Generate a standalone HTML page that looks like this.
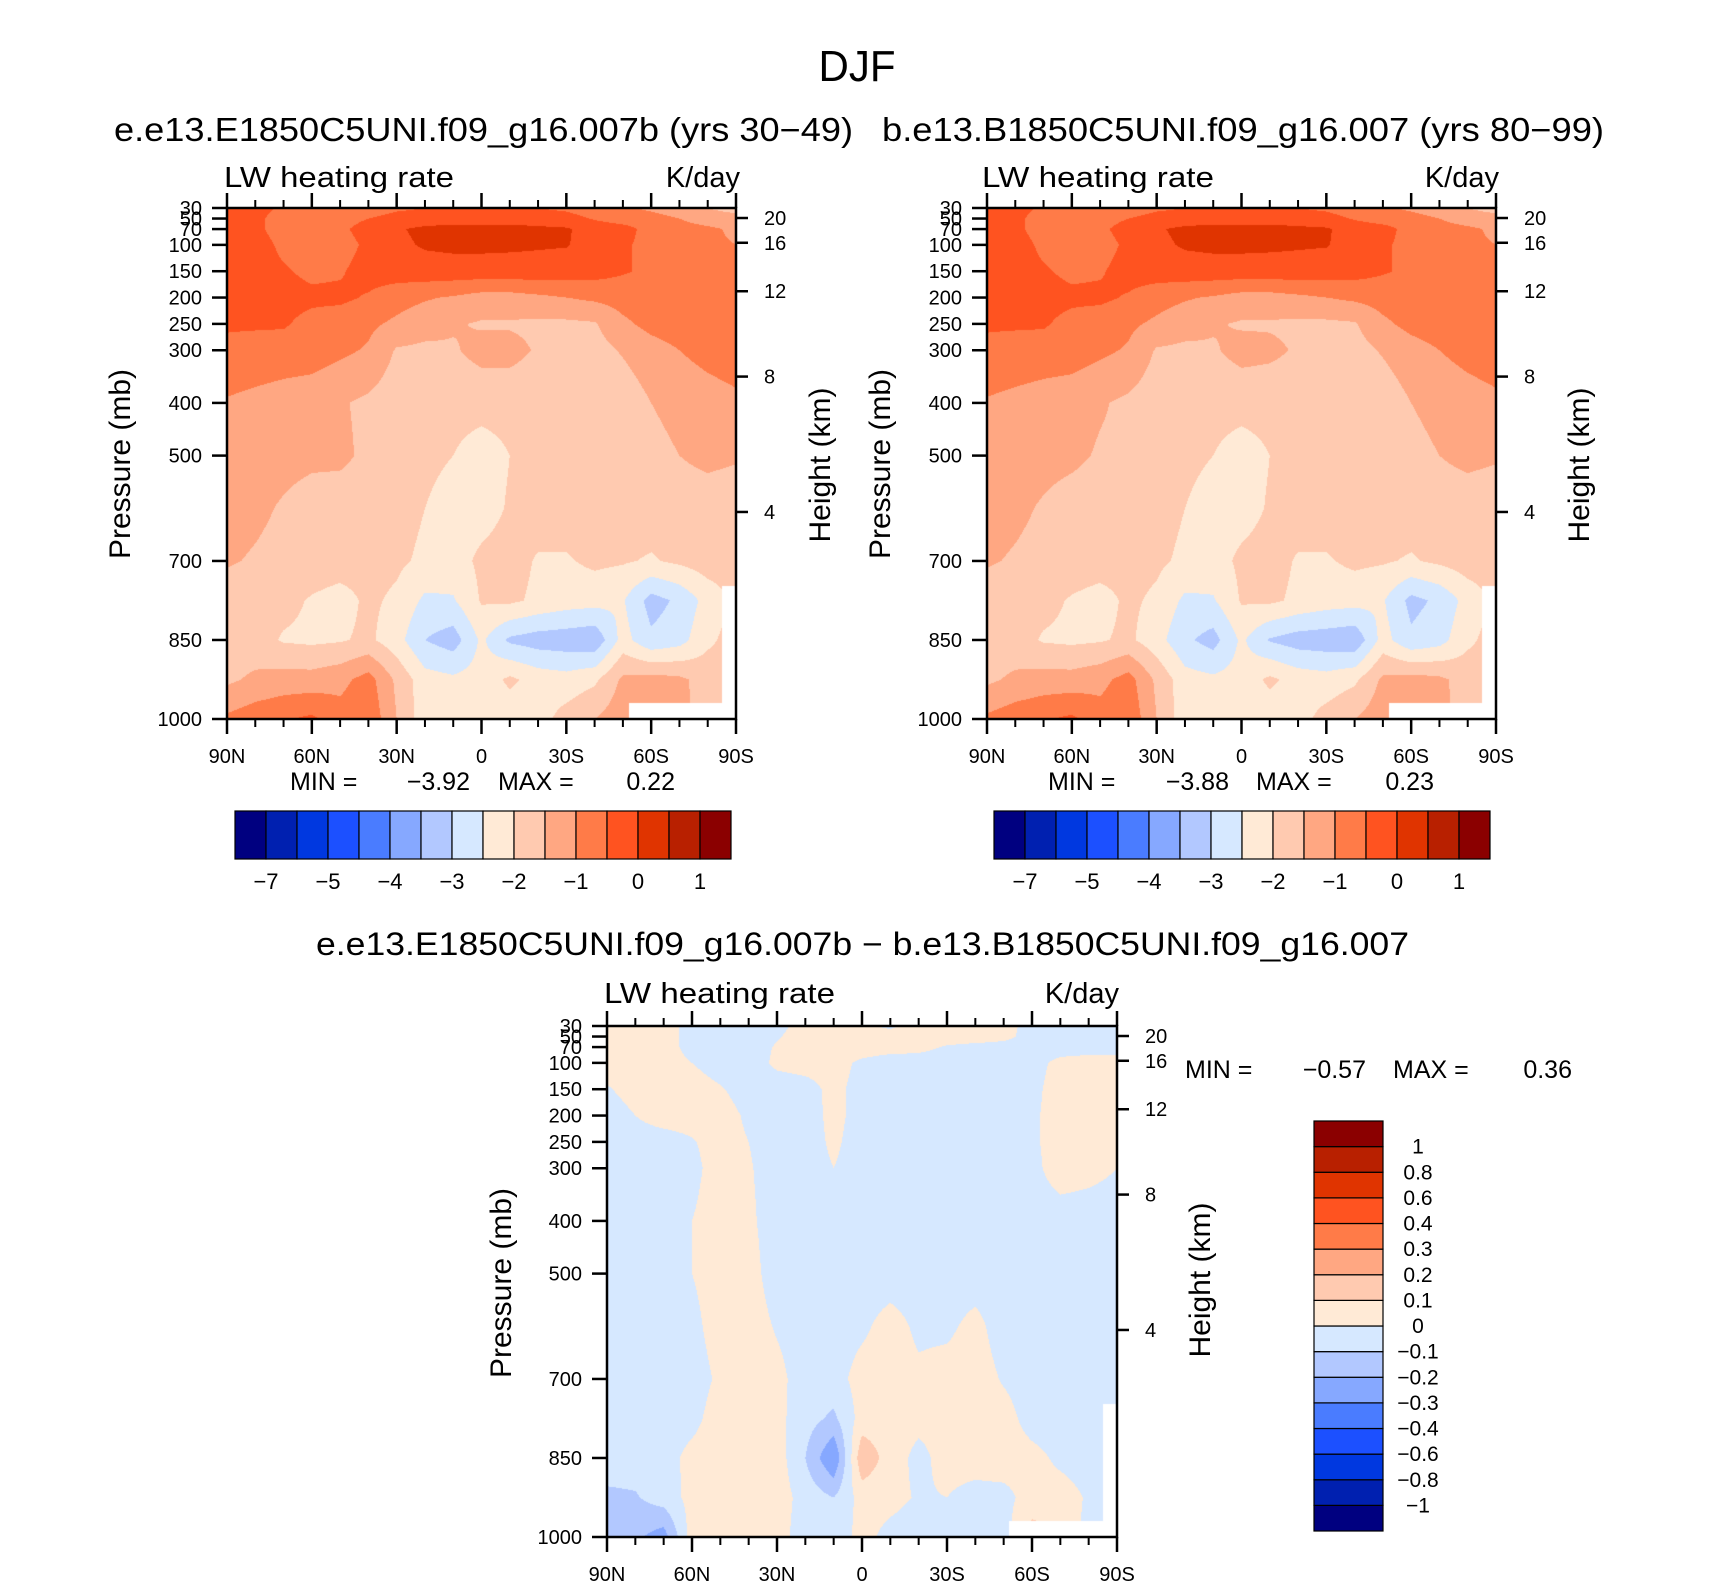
<!DOCTYPE html>
<html><head><meta charset="utf-8"><style>
html,body{margin:0;padding:0;background:#fff;}
#wrap{position:relative;width:1710px;height:1581px;overflow:hidden;background:#fff;}
canvas{position:absolute;}
svg{position:absolute;left:0;top:0;}
text{font-family:"Liberation Sans",sans-serif;fill:#000;}
</style></head><body>
<div id="wrap">
<canvas id="c1"></canvas>
<canvas id="c2"></canvas>
<canvas id="c3"></canvas>
<svg id="svg" width="1710" height="1581">
<text x="857" y="81" font-size="44" text-anchor="middle" textLength="77" lengthAdjust="spacingAndGlyphs">DJF</text>
<text x="114" y="141" font-size="33" textLength="739" lengthAdjust="spacingAndGlyphs">e.e13.E1850C5UNI.f09_g16.007b (yrs 30−49)</text>
<text x="882" y="141" font-size="33" textLength="722" lengthAdjust="spacingAndGlyphs">b.e13.B1850C5UNI.f09_g16.007 (yrs 80−99)</text>
<text x="316" y="955" font-size="32" textLength="1093" lengthAdjust="spacingAndGlyphs">e.e13.E1850C5UNI.f09_g16.007b − b.e13.B1850C5UNI.f09_g16.007</text>
<text x="224" y="187" font-size="29" textLength="230" lengthAdjust="spacingAndGlyphs">LW heating rate</text>
<text x="740" y="187" font-size="29" text-anchor="end">K/day</text>
<text x="982" y="187" font-size="29" textLength="232" lengthAdjust="spacingAndGlyphs">LW heating rate</text>
<text x="1499" y="187" font-size="29" text-anchor="end">K/day</text>
<text x="604" y="1003" font-size="29" textLength="231" lengthAdjust="spacingAndGlyphs">LW heating rate</text>
<text x="1119" y="1003" font-size="29" text-anchor="end">K/day</text>
<text transform="translate(130,464) rotate(-90)" font-size="30" text-anchor="middle">Pressure (mb)</text>
<text transform="translate(830,465) rotate(-90)" font-size="30" text-anchor="middle">Height (km)</text>
<text transform="translate(890,464) rotate(-90)" font-size="30" text-anchor="middle">Pressure (mb)</text>
<text transform="translate(1589,465) rotate(-90)" font-size="30" text-anchor="middle">Height (km)</text>
<text transform="translate(511,1283) rotate(-90)" font-size="30" text-anchor="middle">Pressure (mb)</text>
<text transform="translate(1210,1280) rotate(-90)" font-size="30" text-anchor="middle">Height (km)</text>
<g font-size="25">
<text x="290" y="790">MIN =</text><text x="470" y="790" text-anchor="end">−3.92</text>
<text x="498" y="790">MAX =</text><text x="675" y="790" text-anchor="end">0.22</text></g>
<g font-size="25">
<text x="1048" y="790">MIN =</text><text x="1229" y="790" text-anchor="end">−3.88</text>
<text x="1256" y="790">MAX =</text><text x="1434" y="790" text-anchor="end">0.23</text></g>
<g font-size="25">
<text x="1185" y="1078">MIN =</text><text x="1366" y="1078" text-anchor="end">−0.57</text>
<text x="1393" y="1078">MAX =</text><text x="1572" y="1078" text-anchor="end">0.36</text></g>
<g id="dyn"></g>
</svg>
</div>
<script>
const lats=[90,80,70,60,50,40,30,20,10,0,-10,-20,-30,-40,-50,-60,-70,-80,-90];
const plevs=[30,50,70,100,150,200,250,300,400,500,600,700,775,850,925,1000];
const field1=[
[-0.3,-0.3,-0.6,-0.8,-0.8,-0.8,-0.6,-0.5,-0.5,-0.5,-0.5,-0.5,-0.6,-0.8,-0.9,-1.1,-1.3,-1.5,-1.7],
[-0.25,-0.4,-0.7,-0.75,-0.7,-0.5,-0.3,-0.25,-0.2,-0.2,-0.2,-0.25,-0.3,-0.55,-0.75,-0.8,-1.0,-1.25,-1.3],
[-0.25,-0.4,-0.7,-0.75,-0.6,-0.3,-0.05,0.1,0.15,0.15,0.15,0.1,0.05,-0.2,-0.3,-0.7,-0.8,-0.9,-1.1],
[-0.25,-0.3,-0.6,-0.75,-0.7,-0.4,-0.1,0.05,0.1,0.1,0.08,0.05,0.03,-0.2,-0.4,-0.7,-0.8,-0.9,-1.0],
[-0.25,-0.3,-0.45,-0.6,-0.55,-0.3,-0.25,-0.2,-0.2,-0.2,-0.2,-0.2,-0.25,-0.3,-0.45,-0.6,-0.75,-0.8,-0.85],
[-0.3,-0.3,-0.35,-0.4,-0.4,-0.55,-0.8,-0.95,-1.05,-1.2,-1.2,-1.1,-1.0,-0.9,-0.8,-0.75,-0.7,-0.7,-0.7],
[-0.45,-0.45,-0.45,-0.65,-0.75,-0.9,-1.1,-1.3,-1.45,-1.55,-1.55,-1.6,-1.6,-1.55,-1.1,-0.85,-0.75,-0.7,-0.7],
[-0.6,-0.65,-0.7,-0.75,-0.9,-1.05,-1.55,-1.6,-1.55,-1.35,-1.35,-1.55,-1.7,-1.7,-1.45,-1.2,-1.0,-0.85,-0.75],
[-1.05,-1.15,-1.25,-1.3,-1.45,-1.6,-1.8,-1.8,-1.8,-1.8,-1.8,-1.8,-1.8,-1.8,-1.8,-1.5,-1.3,-1.2,-1.1],
[-1.25,-1.3,-1.35,-1.4,-1.4,-1.6,-1.75,-1.85,-2.0,-2.25,-2.0,-1.8,-1.75,-1.75,-1.75,-1.7,-1.5,-1.4,-1.45],
[-1.3,-1.4,-1.55,-1.7,-1.75,-1.75,-1.8,-2.0,-2.25,-2.2,-1.95,-1.75,-1.75,-1.75,-1.75,-1.75,-1.7,-1.7,-1.75],
[-1.45,-1.55,-1.65,-1.7,-1.75,-1.8,-1.9,-2.1,-2.2,-1.9,-1.8,-2.05,-2.05,-1.9,-1.95,-2.05,-1.9,-1.75,-1.75],
[-1.75,-1.75,-1.85,-2.05,-2.2,-1.9,-2.1,-2.6,-2.55,-1.95,-1.9,-2.1,-2.25,-2.3,-2.45,-3.2,-2.9,-2.3,-1.9],
[-1.8,-1.8,-2.05,-2.1,-2.05,-1.9,-2.3,-3.0,-3.25,-2.4,-3.1,-3.25,-3.3,-3.4,-2.3,-2.9,-2.7,-2.1,-1.8],
[-1.6,-1.4,-1.3,-1.3,-1.15,-0.8,-1.6,-2.3,-2.4,-2.3,-1.9,-2.2,-2.3,-2.1,-1.4,-1.3,-1.4,-1.7,-1.8],
[-0.9,-0.7,-0.55,-0.4,-0.8,-0.6,-1.5,-2.3,-2.4,-2.3,-2.3,-2.2,-1.8,-1.5,-1.2,-0.9,-1.3,-1.8,-1.8]];
const field2=[
[-0.3,-0.3,-0.6,-0.8,-0.8,-0.8,-0.6,-0.5,-0.5,-0.5,-0.5,-0.5,-0.6,-0.8,-0.9,-1.1,-1.3,-1.5,-1.7],
[-0.25,-0.4,-0.7,-0.75,-0.7,-0.5,-0.3,-0.25,-0.2,-0.2,-0.2,-0.25,-0.3,-0.55,-0.75,-0.8,-1.0,-1.25,-1.3],
[-0.25,-0.4,-0.7,-0.75,-0.6,-0.3,-0.05,0.1,0.15,0.15,0.15,0.1,0.05,-0.2,-0.3,-0.7,-0.8,-0.9,-1.1],
[-0.25,-0.3,-0.6,-0.75,-0.7,-0.4,-0.1,0.05,0.1,0.1,0.08,0.05,0.03,-0.2,-0.4,-0.7,-0.8,-0.9,-1.0],
[-0.25,-0.3,-0.45,-0.6,-0.55,-0.3,-0.25,-0.2,-0.2,-0.2,-0.2,-0.2,-0.25,-0.3,-0.45,-0.6,-0.75,-0.8,-0.85],
[-0.3,-0.3,-0.35,-0.4,-0.4,-0.55,-0.8,-0.95,-1.05,-1.2,-1.2,-1.1,-1.0,-0.9,-0.8,-0.75,-0.7,-0.7,-0.7],
[-0.45,-0.45,-0.45,-0.65,-0.75,-0.9,-1.1,-1.3,-1.45,-1.55,-1.55,-1.6,-1.6,-1.55,-1.1,-0.85,-0.75,-0.7,-0.7],
[-0.6,-0.65,-0.7,-0.75,-0.9,-1.05,-1.55,-1.6,-1.55,-1.35,-1.4,-1.55,-1.7,-1.7,-1.45,-1.2,-1.0,-0.85,-0.75],
[-1.05,-1.15,-1.25,-1.3,-1.45,-1.6,-1.8,-1.8,-1.8,-1.8,-1.8,-1.8,-1.8,-1.8,-1.8,-1.5,-1.3,-1.2,-1.1],
[-1.25,-1.3,-1.35,-1.4,-1.55,-1.6,-1.75,-1.85,-2.0,-2.25,-2.0,-1.8,-1.75,-1.75,-1.75,-1.7,-1.5,-1.4,-1.45],
[-1.3,-1.4,-1.55,-1.7,-1.75,-1.75,-1.8,-2.0,-2.25,-2.2,-1.95,-1.75,-1.75,-1.75,-1.75,-1.75,-1.7,-1.7,-1.75],
[-1.45,-1.55,-1.65,-1.7,-1.75,-1.8,-1.9,-2.1,-2.2,-1.9,-1.8,-2.05,-2.05,-1.9,-1.95,-2.05,-1.9,-1.75,-1.75],
[-1.75,-1.75,-1.85,-2.05,-2.2,-1.9,-2.1,-2.6,-2.55,-1.95,-1.9,-2.1,-2.25,-2.3,-2.45,-3.15,-2.9,-2.3,-1.9],
[-1.8,-1.8,-2.05,-2.1,-2.05,-1.9,-2.3,-2.9,-3.2,-2.4,-3.05,-3.25,-3.3,-3.4,-2.3,-2.9,-2.7,-2.1,-1.8],
[-1.6,-1.4,-1.3,-1.3,-1.15,-0.8,-1.6,-2.3,-2.4,-2.3,-1.9,-2.2,-2.3,-2.1,-1.4,-1.3,-1.4,-1.7,-1.8],
[-0.9,-0.7,-0.55,-0.4,-0.8,-0.6,-1.5,-2.3,-2.4,-2.3,-2.3,-2.2,-1.8,-1.5,-1.2,-0.9,-1.3,-1.8,-1.8]];
const field3=[
[.05,.05,.05,-.04,-.05,-.05,-.03,.04,.05,.02,-.02,.05,.05,.05,.04,-.04,-.05,-.05,-.05],
[.05,.05,.05,-.04,-.05,-.05,-.01,.05,.05,.05,.05,.05,.05,.05,.03,-.04,-.05,-.05,-.05],
[.05,.05,.05,-.04,-.05,-.05,.01,.05,.05,.05,.04,.03,-.01,-.03,-.04,-.05,-.05,-.05,-.05],
[.05,.05,.05,.0,-.05,-.05,.02,.04,.04,-.02,-.05,-.05,-.05,-.05,-.05,-.04,.03,.05,.05],
[-.01,.04,.05,.05,.01,-.05,-.05,-.04,.03,-.04,-.05,-.05,-.05,-.05,-.05,-.03,.05,.05,.05],
[-.05,.0,.05,.05,.05,-.02,-.05,-.05,.03,-.04,-.05,-.05,-.05,-.05,-.05,-.02,.05,.05,.05],
[-.05,-.05,-.05,-.01,.05,.0,-.05,-.05,.02,-.05,-.05,-.05,-.05,-.05,-.05,-.02,.05,.05,.04],
[-.05,-.05,-.05,-.03,.05,.01,-.05,-.05,.0,-.05,-.05,-.05,-.05,-.05,-.05,-.03,.05,.03,.0],
[-.05,-.05,-.05,.0,.05,.02,-.05,-.05,-.05,-.05,-.05,-.05,-.05,-.05,-.05,-.05,-.05,-.05,-.05],
[-.05,-.05,-.05,.0,.05,.04,-.05,-.05,-.05,-.05,-.05,-.05,-.05,-.05,-.05,-.05,-.05,-.05,-.05],
[-.05,-.05,-.05,-.03,.05,.05,-.01,-.05,-.05,-.02,.04,-.02,-.02,.03,-.05,-.05,-.05,-.05,-.05],
[-.05,-.05,-.05,-.05,.02,.05,.03,-.05,-.04,.04,.05,.02,.04,.05,-.01,-.05,-.05,-.05,-.05],
[-.05,-.05,-.05,-.03,.05,.05,.03,-.06,-.12,.04,.05,.03,.03,.05,.04,-.04,-.05,-.05,-.05],
[-.05,-.05,-.04,.03,.05,.05,.05,-.1,-.3,.18,.05,-.03,.04,.05,.05,.03,-.02,-.04,-.05],
[-.12,-.11,-.05,.03,.04,.05,.05,-.04,-.1,.04,.03,-.01,.0,-.04,-.03,.04,.04,-.01,-.04],
[-.18,-.18,-.25,.05,.05,.05,.04,-.05,-.05,.03,-.03,-.05,-.04,-.05,-.05,.15,.1,-.04,-.05]];
const colors=['#000080','#0020b0','#0038e0','#1c50ff','#4a7cff','#86a8ff','#b2c8ff','#d6e8ff','#ffead6','#ffcab0','#ffa782','#ff7b48','#ff5320','#e03400','#b82000','#8b0000'];
const levels1=[-7,-6,-5,-4.5,-4,-3.5,-3,-2.5,-2,-1.5,-1,-0.5,0,0.5,1];
const levels1Labels=['−7','','−5','','−4','','−3','','−2','','−1','','0','','1'];
const levels3=[-1,-0.8,-0.6,-0.4,-0.3,-0.2,-0.1,0,0.1,0.2,0.3,0.4,0.6,0.8,1];
const levels3Labels=['−1','−0.8','−0.6','−0.4','−0.3','−0.2','−0.1','0','0.1','0.2','0.3','0.4','0.6','0.8','1'];
const pTickVals=[30,50,70,100,150,200,250,300,400,500,700,850,1000];
const hTickLabels=['20','16','12','8','4'];
const hTickP=[49,96,188,350,607];
const latTickVals=[90,60,30,0,-30,-60,-90];
const latTickLabels=['90N','60N','30N','0','30S','60S','90S'];
const latMinorVals=[80,70,50,40,20,10,-10,-20,-40,-50,-70,-80];
const maskLatFrom=[-52,-85];
const maskLatTo=[-85,-90];
const maskPTop=[970,748];

const P1={x:227,y:208,w:509,h:511};
const P2={x:987,y:208,w:509,h:511};
const P3={x:607,y:1026,w:510,h:511};
function xS(P,lat){return P.x+(90-lat)/180*P.w;}
function yS(P,p){return P.y+(p-30)/970*P.h;}
const NS='http://www.w3.org/2000/svg';
const dyn=document.getElementById('dyn');
function mk(tag,attrs){const e=document.createElementNS(NS,tag);for(const k in attrs)e.setAttribute(k,attrs[k]);dyn.appendChild(e);return e;}
function levelIndex(v,levels){let k=0;for(let i=0;i<levels.length;i++){if(v>=levels[i])k=i+1;}return k;}
function sample(field,lat,p){
  let fx=(90-lat)/10;fx=Math.max(0,Math.min(17.9999,fx));
  const i=Math.floor(fx),tx=fx-i;
  let r=0;while(r<plevs.length-2&&p>plevs[r+1])r++;
  let ty=(p-plevs[r])/(plevs[r+1]-plevs[r]);ty=Math.max(0,Math.min(1,ty));
  const a=field[r][i],b=field[r][i+1],c=field[r+1][i],d=field[r+1][i+1];
  return (a*(1-tx)+b*tx)*(1-ty)+(c*(1-tx)+d*tx)*ty;
}
function hex(c){return [parseInt(c.substr(1,2),16),parseInt(c.substr(3,2),16),parseInt(c.substr(5,2),16)];}
const rgb=colors.map(hex);
function drawField(id,P,field,levels){
  const cv=document.getElementById(id);
  cv.width=P.w;cv.height=P.h;cv.style.left=P.x+'px';cv.style.top=P.y+'px';
  const ctx=cv.getContext('2d');const img=ctx.createImageData(P.w,P.h);
  for(let y=0;y<P.h;y++){
    const p=30+(y+0.5)/P.h*970;
    for(let x=0;x<P.w;x++){
      const lat=90-(x+0.5)/P.w*180;
      let col=rgb[levelIndex(sample(field,lat,p),levels)];
      for(let m=0;m<maskLatFrom.length;m++){if(lat<=maskLatFrom[m]&&lat>=maskLatTo[m]&&p>=maskPTop[m])col=[255,255,255];}
      const o=(y*P.w+x)*4;img.data[o]=col[0];img.data[o+1]=col[1];img.data[o+2]=col[2];img.data[o+3]=255;
    }
  }
  ctx.putImageData(img,0,0);
}
drawField('c1',P1,field1,levels1);
drawField('c2',P2,field2,levels1);
drawField('c3',P3,field3,levels3);

function axes(P,name){
  const fr=mk('rect',{x:P.x,y:P.y,width:P.w,height:P.h,fill:'none',stroke:'#000','stroke-width':2.5});
  
  
  pTickVals.forEach(function(p){
    const y=yS(P,p);
    const t=mk('line',{x1:P.x-15,x2:P.x,y1:y,y2:y,stroke:'#000','stroke-width':2.5});
    
    
    const l=mk('text',{x:P.x-25,y:y+7,'font-size':20,'text-anchor':'end'});
    l.textContent=String(p);
    
    
  });
  hTickP.forEach(function(p,i){
    const y=yS(P,p);
    const t=mk('line',{x1:P.x+P.w,x2:P.x+P.w+12,y1:y,y2:y,stroke:'#000','stroke-width':2.5});
    
    
    const l=mk('text',{x:P.x+P.w+28,y:y+7,'font-size':20});
    l.textContent=hTickLabels[i];
    
    
  });
  latTickVals.forEach(function(lat,i){
    const x=xS(P,lat);
    const t1=mk('line',{x1:x,x2:x,y1:P.y-15,y2:P.y,stroke:'#000','stroke-width':2.5});
    
    
    const t2=mk('line',{x1:x,x2:x,y1:P.y+P.h,y2:P.y+P.h+15,stroke:'#000','stroke-width':2.5});
    
    
    const l=mk('text',{x:x,y:P.y+P.h+44,'font-size':20,'text-anchor':'middle'});
    l.textContent=latTickLabels[i];
    
    
  });
  latMinorVals.forEach(function(lat){
    const x=xS(P,lat);
    const t1=mk('line',{x1:x,x2:x,y1:P.y-8,y2:P.y,stroke:'#000','stroke-width':2});
    
    
    const t2=mk('line',{x1:x,x2:x,y1:P.y+P.h,y2:P.y+P.h+8,stroke:'#000','stroke-width':2});
    
    
  });
}
axes(P1,'left');axes(P2,'right');axes(P3,'difference');

function hbar(x0,y0,w,h,name){
  const bw=w/colors.length;
  colors.forEach(function(c,k){
    const r=mk('rect',{x:x0+k*bw,y:y0,width:bw,height:h,fill:c,stroke:'#000','stroke-width':1.2});
    
    
  });
  levels1Labels.forEach(function(s,i){
    if(!s)return;
    const t=mk('text',{x:x0+(i+1)*bw,y:y0+h+30,'font-size':22,'text-anchor':'middle'});
    t.textContent=s;
    
    
  });
}
hbar(235,811,496,48,'left');
hbar(994,811,496,48,'right');

(function vbar(){
  const x0=1314,y0=1121,w=69,h=410,n=colors.length,bh=h/n;
  colors.forEach(function(c,k){
    const r=mk('rect',{x:x0,y:y0+(n-1-k)*bh,width:w,height:bh,fill:c,stroke:'#000','stroke-width':1.2});
    
    
  });
  levels3Labels.forEach(function(s,i){
    const t=mk('text',{x:1418,y:y0+(n-1-i)*bh+7,'font-size':21,'text-anchor':'middle'});
    t.textContent=s;
    
    
  });
})();
</script>
</body></html>
